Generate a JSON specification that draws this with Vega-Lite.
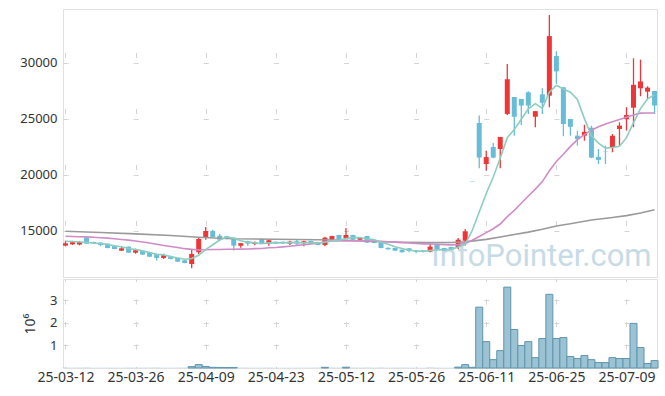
{
"$schema": "https://vega.github.io/schema/vega-lite/v6.json",
"padding": {"left": 19, "top": 8, "right": 9, "bottom": 5},
"spacing": 0,
"data": {"values": [
{"date":"25-03-12","open":13690,"high":14130,"low":13630,"close":13900,"volume":12000,"ma5":14080,"ma20":14530,"ma60":14970},
{"date":"25-03-13","open":13810,"high":14110,"low":13750,"close":14000,"volume":9000,"ma5":14060,"ma20":14510,"ma60":null},
{"date":"25-03-14","open":13790,"high":14110,"low":13720,"close":14020,"volume":11000,"ma5":14020,"ma20":14490,"ma60":null},
{"date":"25-03-17","open":14400,"high":14460,"low":13840,"close":13870,"volume":15000,"ma5":13990,"ma20":14470,"ma60":null},
{"date":"25-03-18","open":14020,"high":14040,"low":13840,"close":13870,"volume":8000,"ma5":13920,"ma20":14440,"ma60":null},
{"date":"25-03-19","open":13950,"high":13970,"low":13640,"close":13750,"volume":9000,"ma5":13890,"ma20":14400,"ma60":14870},
{"date":"25-03-20","open":13870,"high":13880,"low":13450,"close":13480,"volume":10000,"ma5":13790,"ma20":14360,"ma60":null},
{"date":"25-03-21","open":13660,"high":13680,"low":13370,"close":13390,"volume":9000,"ma5":13670,"ma20":14300,"ma60":null},
{"date":"25-03-24","open":13240,"high":13630,"low":13210,"close":13450,"volume":8000,"ma5":13590,"ma20":14240,"ma60":null},
{"date":"25-03-25","open":13600,"high":13620,"low":13040,"close":13060,"volume":12000,"ma5":13430,"ma20":14180,"ma60":null},
{"date":"25-03-26","open":13060,"high":13420,"low":12970,"close":13280,"volume":10000,"ma5":13340,"ma20":14110,"ma60":14740},
{"date":"25-03-27","open":13240,"high":13260,"low":12860,"close":12890,"volume":11000,"ma5":13220,"ma20":14020,"ma60":null},
{"date":"25-03-28","open":13100,"high":13120,"low":12680,"close":12700,"volume":12000,"ma5":13080,"ma20":13920,"ma60":null},
{"date":"25-03-31","open":12950,"high":12960,"low":12350,"close":12590,"volume":14000,"ma5":12910,"ma20":13820,"ma60":null},
{"date":"25-04-01","open":12590,"high":12970,"low":12500,"close":12830,"volume":10000,"ma5":12870,"ma20":13710,"ma60":null},
{"date":"25-04-02","open":12770,"high":12790,"low":12470,"close":12500,"volume":9000,"ma5":12710,"ma20":13610,"ma60":14600},
{"date":"25-04-03","open":12620,"high":12640,"low":12230,"close":12260,"volume":11000,"ma5":12580,"ma20":13520,"ma60":null},
{"date":"25-04-04","open":12380,"high":12400,"low":12120,"close":12140,"volume":13000,"ma5":12470,"ma20":13420,"ma60":null},
{"date":"25-04-07","open":12050,"high":13300,"low":11670,"close":12950,"volume":60000,"ma5":12540,"ma20":13360,"ma60":null},
{"date":"25-04-08","open":13100,"high":14440,"low":12950,"close":14290,"volume":150000,"ma5":12830,"ma20":13300,"ma60":14440},
{"date":"25-04-09","open":14380,"high":15360,"low":14220,"close":15000,"volume":70000,"ma5":13330,"ma20":13320,"ma60":null},
{"date":"25-04-10","open":15000,"high":15120,"low":14440,"close":14460,"volume":30000,"ma5":13770,"ma20":13340,"ma60":null},
{"date":"25-04-11","open":14580,"high":14730,"low":14110,"close":14220,"volume":25000,"ma5":14190,"ma20":13350,"ma60":14350},
{"date":"25-04-14","open":14530,"high":14550,"low":14260,"close":14290,"volume":20000,"ma5":14460,"ma20":13370,"ma60":null},
{"date":"25-04-15","open":14400,"high":14420,"low":13260,"close":13690,"volume":25000,"ma5":14340,"ma20":13370,"ma60":14300},
{"date":"25-04-16","open":13680,"high":13930,"low":13510,"close":13910,"volume":12000,"ma5":14120,"ma20":13380,"ma60":null},
{"date":"25-04-17","open":14080,"high":14130,"low":13690,"close":13870,"volume":10000,"ma5":14000,"ma20":13390,"ma60":null},
{"date":"25-04-18","open":13840,"high":14050,"low":13720,"close":13960,"volume":8000,"ma5":13940,"ma20":13420,"ma60":null},
{"date":"25-04-21","open":14290,"high":14300,"low":13880,"close":13900,"volume":9000,"ma5":13860,"ma20":13440,"ma60":null},
{"date":"25-04-22","open":13870,"high":14290,"low":13690,"close":14170,"volume":11000,"ma5":13950,"ma20":13500,"ma60":null},
{"date":"25-04-23","open":14040,"high":14060,"low":13850,"close":13870,"volume":7000,"ma5":13940,"ma20":13530,"ma60":14260},
{"date":"25-04-24","open":14040,"high":14060,"low":13860,"close":13880,"volume":7000,"ma5":13950,"ma20":13580,"ma60":null},
{"date":"25-04-25","open":13870,"high":14130,"low":13750,"close":14050,"volume":8000,"ma5":13970,"ma20":13640,"ma60":null},
{"date":"25-04-28","open":14080,"high":14220,"low":13750,"close":13870,"volume":9000,"ma5":13960,"ma20":13710,"ma60":null},
{"date":"25-04-29","open":13900,"high":14130,"low":13630,"close":14080,"volume":10000,"ma5":13950,"ma20":13770,"ma60":null},
{"date":"25-04-30","open":14110,"high":14130,"low":13820,"close":13840,"volume":9000,"ma5":13950,"ma20":13840,"ma60":null},
{"date":"25-05-02","open":14020,"high":14040,"low":13720,"close":13750,"volume":8000,"ma5":13920,"ma20":13910,"ma60":14220},
{"date":"25-05-07","open":13750,"high":14490,"low":13630,"close":14400,"volume":30000,"ma5":13990,"ma20":14020,"ma60":null},
{"date":"25-05-08","open":14220,"high":14580,"low":14200,"close":14550,"volume":15000,"ma5":14130,"ma20":14100,"ma60":null},
{"date":"25-05-09","open":14640,"high":14660,"low":14200,"close":14220,"volume":12000,"ma5":14160,"ma20":14100,"ma60":null},
{"date":"25-05-12","open":14350,"high":15270,"low":14290,"close":14640,"volume":35000,"ma5":14320,"ma20":14100,"ma60":14170},
{"date":"25-05-13","open":14640,"high":14660,"low":14200,"close":14220,"volume":12000,"ma5":14420,"ma20":14120,"ma60":null},
{"date":"25-05-14","open":14220,"high":14460,"low":14130,"close":14380,"volume":9000,"ma5":14410,"ma20":14130,"ma60":null},
{"date":"25-05-15","open":14550,"high":14580,"low":13930,"close":13960,"volume":13000,"ma5":14290,"ma20":14110,"ma60":null},
{"date":"25-05-16","open":14130,"high":14150,"low":13900,"close":13930,"volume":9000,"ma5":14230,"ma20":14110,"ma60":14060},
{"date":"25-05-19","open":13990,"high":14000,"low":13460,"close":13480,"volume":14000,"ma5":14000,"ma20":14080,"ma60":null},
{"date":"25-05-20","open":13500,"high":13520,"low":13340,"close":13360,"volume":9000,"ma5":13820,"ma20":14040,"ma60":null},
{"date":"25-05-21","open":13480,"high":13500,"low":13220,"close":13240,"volume":10000,"ma5":13600,"ma20":14000,"ma60":null},
{"date":"25-05-22","open":13330,"high":13340,"low":13080,"close":13100,"volume":11000,"ma5":13430,"ma20":13960,"ma60":13990},
{"date":"25-05-23","open":13450,"high":13470,"low":13100,"close":13210,"volume":9000,"ma5":13280,"ma20":13920,"ma60":null},
{"date":"25-05-26","open":13280,"high":13290,"low":13010,"close":13150,"volume":8000,"ma5":13210,"ma20":13880,"ma60":null},
{"date":"25-05-27","open":13280,"high":13290,"low":13100,"close":13190,"volume":7000,"ma5":13180,"ma20":13850,"ma60":null},
{"date":"25-05-28","open":13150,"high":13900,"low":13100,"close":13600,"volume":18000,"ma5":13250,"ma20":13830,"ma60":13960},
{"date":"25-05-29","open":13750,"high":13770,"low":13370,"close":13390,"volume":10000,"ma5":13310,"ma20":13810,"ma60":null},
{"date":"25-05-30","open":13480,"high":13500,"low":13220,"close":13240,"volume":8000,"ma5":13320,"ma20":13780,"ma60":null},
{"date":"25-06-02","open":13570,"high":13600,"low":13300,"close":13330,"volume":9000,"ma5":13360,"ma20":13760,"ma60":13970},
{"date":"25-06-04","open":13550,"high":14380,"low":13390,"close":14220,"volume":40000,"ma5":13560,"ma20":13780,"ma60":null},
{"date":"25-06-05","open":14130,"high":15180,"low":13700,"close":14970,"volume":150000,"ma5":13830,"ma20":13900,"ma60":14030},
{"date":"25-06-09","open":19460,"high":19460,"low":19430,"close":19430,"volume":30000,"ma5":15040,"ma20":14180,"ma60":null},
{"date":"25-06-10","open":24640,"high":25300,"low":20600,"close":21550,"volume":2700000,"ma5":16700,"ma20":14500,"ma60":null},
{"date":"25-06-11","open":20980,"high":22170,"low":20380,"close":21600,"volume":1170000,"ma5":18350,"ma20":14850,"ma60":14250},
{"date":"25-06-12","open":22500,"high":22860,"low":21500,"close":21550,"volume":370000,"ma5":19820,"ma20":15200,"ma60":null},
{"date":"25-06-13","open":22320,"high":23390,"low":20600,"close":23400,"volume":770000,"ma5":21510,"ma20":15620,"ma60":14460},
{"date":"25-06-16","open":25450,"high":29910,"low":25360,"close":28550,"volume":3590000,"ma5":23330,"ma20":16280,"ma60":null},
{"date":"25-06-17","open":26960,"high":26960,"low":23510,"close":25200,"volume":1710000,"ma5":24060,"ma20":16840,"ma60":14680},
{"date":"25-06-18","open":26790,"high":26790,"low":24460,"close":26200,"volume":1000000,"ma5":24980,"ma20":17470,"ma60":null},
{"date":"25-06-19","open":27380,"high":27470,"low":25450,"close":26200,"volume":1170000,"ma5":25910,"ma20":18120,"ma60":14900},
{"date":"25-06-20","open":25200,"high":25710,"low":24260,"close":25700,"volume":460000,"ma5":26370,"ma20":18740,"ma60":null},
{"date":"25-06-23","open":27200,"high":27740,"low":25450,"close":26450,"volume":1310000,"ma5":25950,"ma20":19410,"ma60":15150},
{"date":"25-06-24","open":27080,"high":34290,"low":26050,"close":32400,"volume":3270000,"ma5":27390,"ma20":20370,"ma60":null},
{"date":"25-06-25","open":30620,"high":31050,"low":28130,"close":29250,"volume":1310000,"ma5":28000,"ma20":21200,"ma60":15450},
{"date":"25-06-26","open":27830,"high":27830,"low":23460,"close":24550,"volume":1350000,"ma5":27670,"ma20":21850,"ma60":null},
{"date":"25-06-27","open":25000,"high":25000,"low":23510,"close":24300,"volume":510000,"ma5":27390,"ma20":22550,"ma60":15650},
{"date":"25-06-30","open":23510,"high":23950,"low":22620,"close":23200,"volume":420000,"ma5":26740,"ma20":23150,"ma60":null},
{"date":"25-07-01","open":23510,"high":24490,"low":23060,"close":23850,"volume":550000,"ma5":25030,"ma20":23600,"ma60":null},
{"date":"25-07-02","open":24220,"high":24400,"low":21500,"close":21550,"volume":370000,"ma5":23490,"ma20":24000,"ma60":15980},
{"date":"25-07-03","open":21610,"high":22320,"low":20980,"close":21350,"volume":240000,"ma5":22850,"ma20":24300,"ma60":null},
{"date":"25-07-04","open":22080,"high":22620,"low":20980,"close":22050,"volume":240000,"ma5":22400,"ma20":24550,"ma60":null},
{"date":"25-07-07","open":22440,"high":23660,"low":22030,"close":23500,"volume":460000,"ma5":22460,"ma20":24750,"ma60":16200},
{"date":"25-07-08","open":24110,"high":24700,"low":22620,"close":24400,"volume":420000,"ma5":22570,"ma20":24950,"ma60":null},
{"date":"25-07-09","open":25000,"high":26050,"low":23960,"close":25350,"volume":420000,"ma5":23330,"ma20":25150,"ma60":16370},
{"date":"25-07-10","open":26010,"high":30420,"low":24260,"close":28050,"volume":1980000,"ma5":24670,"ma20":25350,"ma60":null},
{"date":"25-07-11","open":27740,"high":30300,"low":27030,"close":28350,"volume":910000,"ma5":25930,"ma20":25520,"ma60":16600},
{"date":"25-07-14","open":27440,"high":27920,"low":26790,"close":27800,"volume":200000,"ma5":26790,"ma20":25540,"ma60":null},
{"date":"25-07-15","open":27500,"high":27500,"low":25450,"close":26200,"volume":330000,"ma5":27150,"ma20":25540,"ma60":16900}
]},
"vconcat": [
{
"width": 594, "height": 268,
"encoding": {
  "x": {"field": "date", "type": "ordinal", "title": null,
    "scale": {"type": "point", "padding": 0.35},
    "axis": {"orient": "bottom", "labels": false, "ticks": false, "domain": false, "grid": true,
      "values": ["25-03-12","25-03-26","25-04-09","25-04-23","25-05-12","25-05-26","25-06-11","25-06-25","25-07-09"],
      "gridDash": [5, 51], "gridDashOffset": 12.5}}
},
"layer": [
  {"data": {"values": [{"label": "InfoPointer.com"}]},
   "mark": {"type": "text", "align": "right", "baseline": "alphabetic", "dx": -3, "fontSize": 31, "font": "Roboto", "color": "#c6dbe5"},
   "encoding": {
     "x": {"datum": "25-07-15", "type": "ordinal"},
     "y": {"datum": 11900, "type": "quantitative", "scale": {"domain": [10890, 34820], "nice": false, "zero": false},
       "axis": {"values": [15000, 20000, 25000, 30000], "format": "d", "title": null, "domain": false, "ticks": false, "labelPadding": 6, "grid": true, "gridDash": [5, 65.13], "gridDashOffset": 0}},
     "text": {"field": "label"}}},
  {"mark": {"type": "rule", "strokeWidth": 1.3},
   "encoding": {
     "y": {"field": "low", "type": "quantitative", "title": null},
     "y2": {"field": "high"},
     "color": {"condition": {"test": "datum.close >= datum.open", "value": "#ef3536"}, "value": "#67bdd7"}}},
  {"mark": {"type": "bar", "size": 5},
   "encoding": {
     "y": {"field": "open", "type": "quantitative", "title": null},
     "y2": {"field": "close"},
     "color": {"condition": {"test": "datum.close >= datum.open", "value": "#ef3536"}, "value": "#67bdd7"}}},
  {"transform": [{"filter": "datum.ma60 != null"}],
   "mark": {"type": "line", "color": "#9a9a9a", "strokeWidth": 1.6},
   "encoding": {"y": {"field": "ma60", "type": "quantitative", "title": null}}},
  {"mark": {"type": "line", "color": "#cf8cc6", "strokeWidth": 1.6},
   "encoding": {"y": {"field": "ma20", "type": "quantitative", "title": null}}},
  {"mark": {"type": "line", "color": "#8ccdc1", "strokeWidth": 1.6},
   "encoding": {"y": {"field": "ma5", "type": "quantitative", "title": null}}}
]
},
{
"width": 594, "height": 89,
"mark": {"type": "bar", "size": 7, "color": "#9cc3d4", "stroke": "#5f94ad", "strokeWidth": 1},
"encoding": {
  "x": {"field": "date", "type": "ordinal", "title": null,
    "scale": {"type": "point", "padding": 0.35},
    "axis": {"labels": true, "ticks": false, "domain": false, "grid": true, "labelAngle": 0, "labelPadding": 2, "labelFontSize": 14,
      "values": ["25-03-12","25-03-26","25-04-09","25-04-23","25-05-12","25-05-26","25-06-11","25-06-25","25-07-09"],
      "gridDash": [5, 17.47], "gridDashOffset": 2.5}},
  "y": {"field": "volume", "type": "quantitative", "title": "10⁶",
    "scale": {"domain": [0, 3950000], "nice": false},
    "axis": {"values": [1000000, 2000000, 3000000], "labelExpr": "datum.value / 1000000", "domain": false, "ticks": false, "labelPadding": 6,
      "grid": true, "gridDash": [5, 65.13], "gridDashOffset": 0, "titleFontWeight": "normal", "titleFontSize": 14, "titleColor": "#333", "titlePadding": 12}},
  "strokeOpacity": {"condition": {"test": "datum.volume < 20000", "value": 0}, "value": 1}
}
}
],
"config": {
  "view": {"stroke": "#e0e0e0", "strokeWidth": 1},
  "axis": {"labelFont": "Noto Sans", "labelFontSize": 13, "labelColor": "#333", "titleFont": "Noto Sans", "gridColor": "#d4d4d4", "gridWidth": 1},
  "concat": {"spacing": 0}
}
}
